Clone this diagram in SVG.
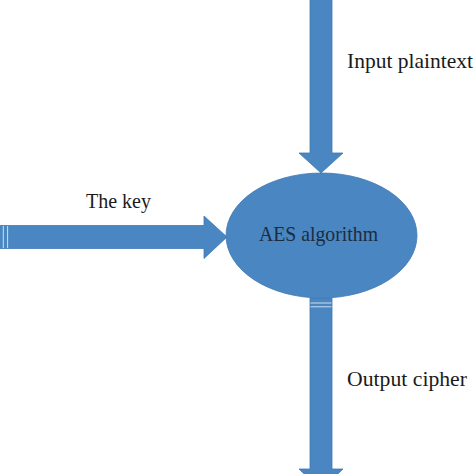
<svg xmlns="http://www.w3.org/2000/svg" width="474" height="474" viewBox="0 0 474 474">
<style>
.shape{fill:#4a86c1;stroke:#4179b2;stroke-width:0.8}
.stripe{stroke:#dfe9f3;stroke-width:0.9}
.lbl{font-family:"Liberation Serif","Times New Roman",serif;font-size:21.5px;fill:#1a1a1a}
.inner{font-family:"Liberation Serif","Times New Roman",serif;font-size:21.5px;fill:#1c2c40;text-anchor:middle}
</style>
<rect width="474" height="474" fill="#ffffff"/>
<g id="connectors">
<g id="input-arrow">
<polygon class="shape" points="310,-2 332,-2 332,153 343,153 321,173 299,153 310,153"/>
</g>
<g id="key-arrow">
<polygon class="shape" points="-2,225.5 204,225.5 204,216 227,237 204,258.5 204,248.5 -2,248.5"/>
<line class="stripe" x1="3.3" y1="226" x2="3.3" y2="248"/>
<line class="stripe" x1="7.6" y1="226" x2="7.6" y2="248"/>
</g>
<g id="output-arrow">
<polygon class="shape" points="310,298 332,298 332,469 343,469 321,490 299,469 310,469"/>
<line class="stripe" x1="310.5" y1="303" x2="331.5" y2="303"/>
<line class="stripe" x1="310.5" y1="306.8" x2="331.5" y2="306.8"/>
</g>
</g>
<g id="node-aes">
<ellipse class="shape" cx="321.5" cy="235.5" rx="95.5" ry="62.5"/>
<text class="inner" x="318.5" y="241" textLength="119" lengthAdjust="spacingAndGlyphs">AES algorithm</text>
</g>
<g id="labels">
<text class="lbl" x="347" y="68" textLength="126" lengthAdjust="spacingAndGlyphs">Input plaintext</text>
<text class="lbl" x="86" y="208" textLength="65" lengthAdjust="spacingAndGlyphs">The key</text>
<text class="lbl" x="347" y="386" textLength="120" lengthAdjust="spacingAndGlyphs">Output cipher</text>
</g>
</svg>
